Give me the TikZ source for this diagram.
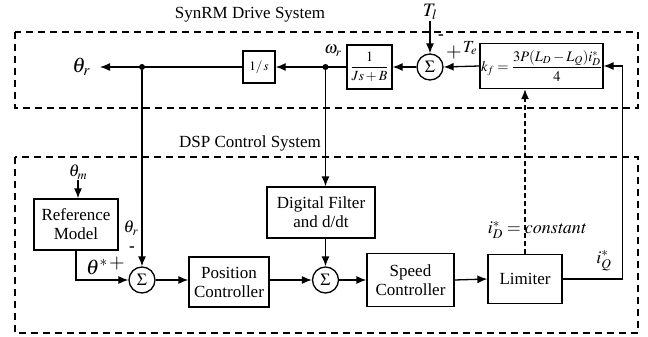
\documentclass[tikz,border=0pt]{standalone}
\usepackage{amsmath}
\usepackage{mathptmx}
\usepackage{fontspec}
\setmainfont{Liberation Serif}
\usetikzlibrary{arrows.meta}

\begin{document}
\begin{tikzpicture}[x=1pt,y=-1pt,
  font=\fontsize{17}{19}\selectfont,
  blk/.style={draw, line width=1.3pt, align=center, inner sep=1pt},
  sumc/.style={draw, line width=1.3pt, circle, minimum size=26pt, inner sep=0pt},
  sig/.style={line width=1.3pt, -{Latex[length=10pt,width=8pt]}},
  dot/.style={circle, fill, inner sep=0pt, minimum size=6pt},
  lbl/.style={inner sep=0.5pt},
  frame/.style={line width=1.1pt, dash pattern=on 7pt off 5pt}]
\useasboundingbox (0,0) rectangle (648,337);
\draw [frame] (15,32) rectangle (638,108);
\draw [frame] (15,157) rectangle (638,333);
\node (toplbl) at (250,15) {SynRM Drive System};
\node (botlbl) at (250,143) {DSP Control System};
% drive system row
\node [blk, minimum width=32pt, minimum height=32pt, font=\fontsize{13}{15}\selectfont] (integ) at (259,67) {$1/\,s$};
\node [blk, minimum width=45pt, minimum height=44pt, font=\fontsize{14}{16}\selectfont] (plant) at (369.5,67) {$\dfrac{1}{Js+B}$};
\node [sumc] (sumT) at (430,67) {$\Sigma$};
\node [blk, minimum width=117pt, minimum height=45pt, font=\fontsize{14.5}{16}\selectfont] (kf) at (541.5,66) {$k_f=\dfrac{3P(L_D-L_Q)i_D^*}{4}$};
\node [dot] (dthr) at (142,67) {};
\node [dot] (dom) at (325.5,67) {};
\node [lbl, left, font=\fontsize{21}{21}\selectfont] (thr) at (91,67) {$\theta_r$};
\node [lbl] (oml) at (333,51) {$\omega_r$};
\node [lbl, font=\fontsize{19}{19}\selectfont] (tl) at (430,12) {$T_l$};
\node [lbl] (mnT) at (441,37) {\bfseries -};
\node [lbl, font=\fontsize{20}{20}\selectfont] (plT) at (454,53) {$+$};
\node [lbl] (tel) at (470,48) {$T_e$};
\draw [sig] (plant.west) -- (integ.east);
\draw [sig] (integ.west) -- (100,67);
\draw [sig] (sumT.west) -- (plant.east);
\draw [sig] (kf.west) -- (sumT.east);
\draw [sig] (tl.south) -- (sumT.north);
% control system row
\node [blk, minimum width=84pt, minimum height=51pt] (refm) at (76,224.5) {Reference\\Model};
\node [sumc] (sumP) at (142,280) {$\Sigma$};
\node [blk, minimum width=80pt, minimum height=50pt] (posc) at (229,282) {Position\\Controller};
\node [blk, minimum width=108pt, minimum height=51pt] (filt) at (321,212.5) {Digital Filter\\and d/dt};
\node [sumc] (sumS) at (325.5,280) {$\Sigma$};
\node [blk, minimum width=87pt, minimum height=53pt] (spdc) at (410.5,280) {Speed\\Controller};
\node [blk, minimum width=74pt, minimum height=49pt] (lim) at (525,279) {Limiter};
\node [lbl] (thm) at (78,172) {$\theta_m$};
\node [lbl] (thr2) at (131,228) {$\theta_r$};
\node [lbl] (mnP) at (132,249) {\bfseries -};
\node [lbl, font=\fontsize{21}{21}\selectfont] (ths) at (97,267) {$\theta^*$};
\node [lbl, font=\fontsize{20}{20}\selectfont] (plP) at (117,264) {$+$};
\node [lbl, font=\fontsize{18}{18}\selectfont] (idl) at (537,230) {$i_D^*=\mathit{constant}$};
\node [lbl, font=\fontsize{18}{18}\selectfont] (iql) at (604,261) {$i_Q^*$};
\draw [sig] (thm.south) -- (thm.south |- refm.north);
\draw [sig] (refm.south) |- (sumP.west);
\draw [sig] (dthr) -- (sumP.north);
\draw [sig] (dom) -- (dom |- filt.north);
\draw [sig] (sumS |- filt.south) -- (sumS.north);
\draw [sig] (sumP.east) -- (sumP -| posc.west);
\draw [sig] (sumP -| posc.east) -- (sumS.west);
\draw [sig] (sumS.east) -- (spdc.west);
\draw [sig] (spdc.east) -- (lim.west);
\draw [sig] (lim.east) -- ++(60,0) |- (kf.east);
\draw [sig, dash pattern=on 5pt off 3pt] (lim.north) -- (lim.north |- kf.south);
\end{tikzpicture}
\end{document}
